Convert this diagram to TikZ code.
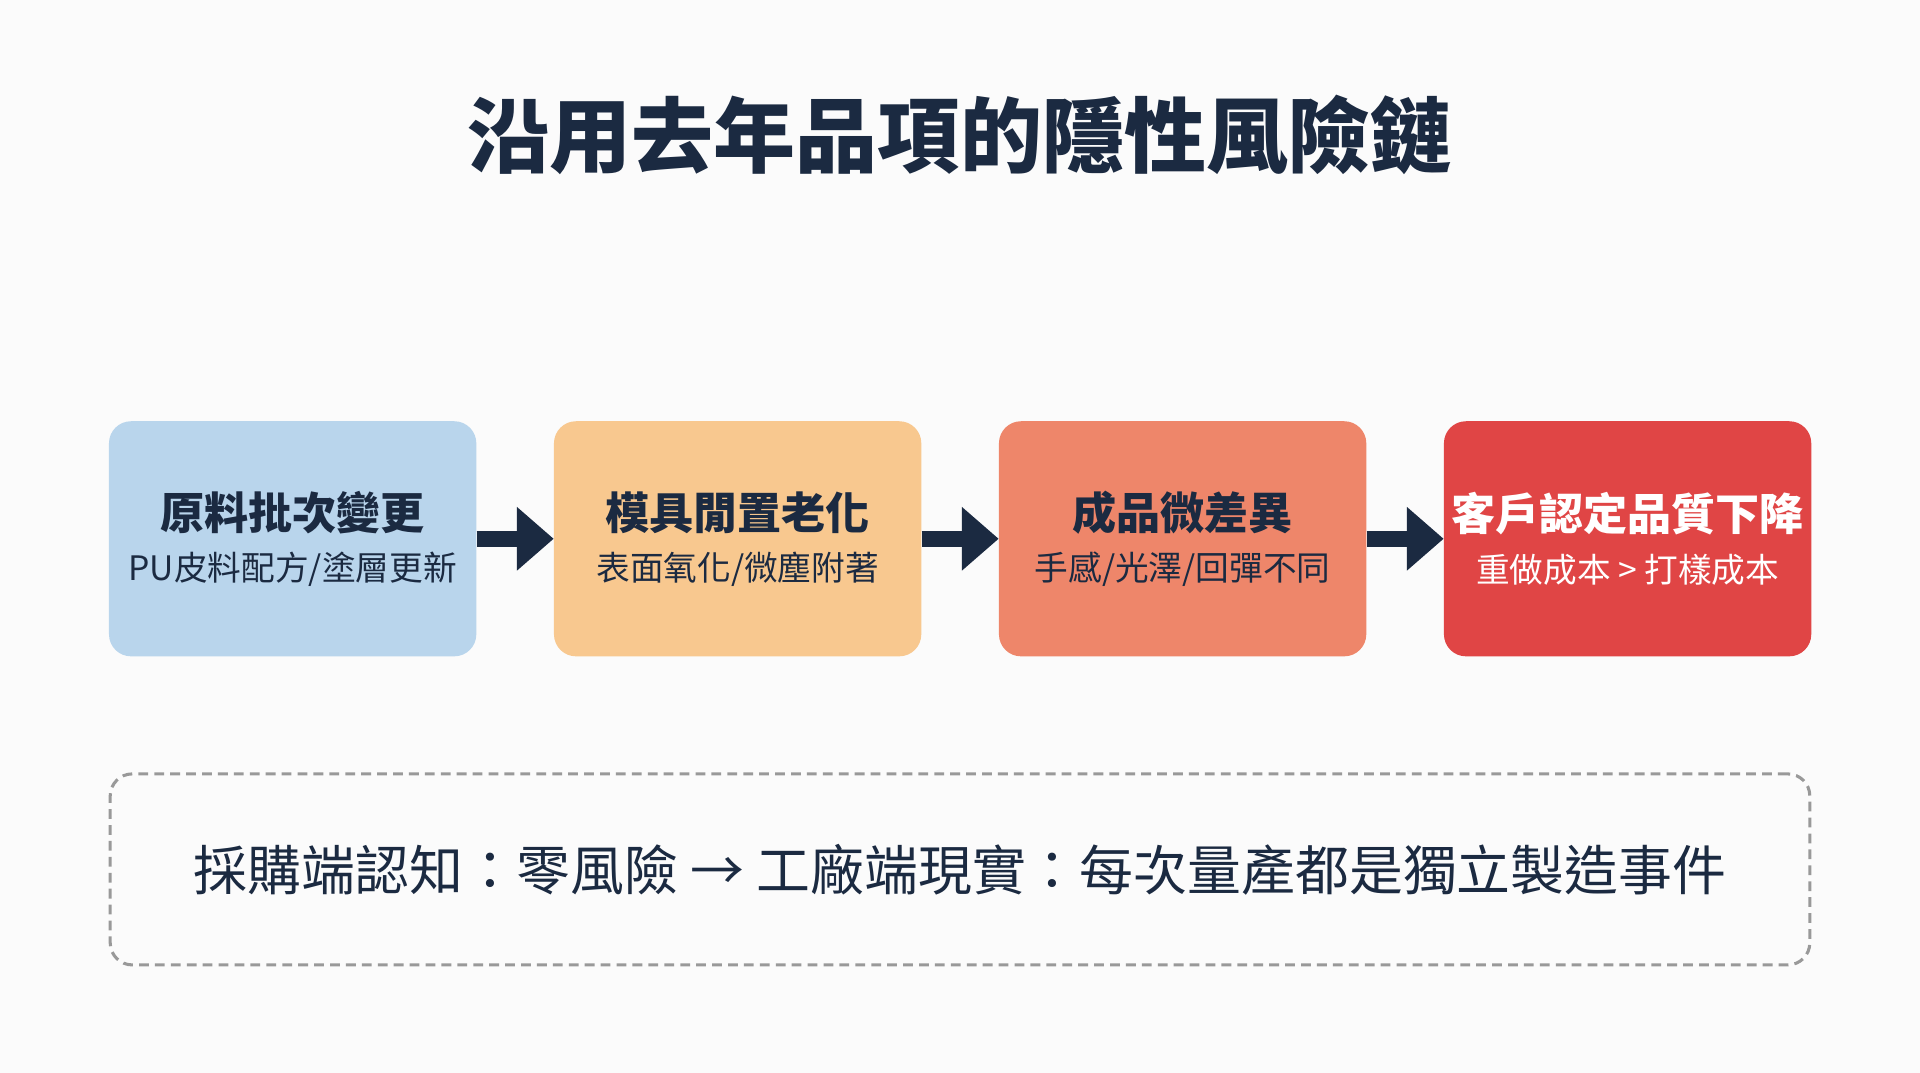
\documentclass[tikz,border=0pt]{standalone}
\usepackage{fontspec}
\setmainfont{Noto Sans CJK TC}
\usetikzlibrary{positioning,arrows.meta}
\definecolor{navy}{HTML}{1B2A41}
\definecolor{cblue}{HTML}{B9D5EC}
\definecolor{corange}{HTML}{F8C88F}
\definecolor{csalmon}{HTML}{EE866A}
\definecolor{cred}{HTML}{E04545}
\tikzset{
  stage/.style={rounded corners=18pt, minimum width=300pt, minimum height=192pt, inner sep=0pt, align=center, text=navy},
  link/.style={navy, line width=13pt, -{Triangle[length=30pt,width=50pt]}},
}
\newcommand{\stagetext}[2]{{\fontsize{36}{42}\selectfont\bfseries #1}\\[14pt]{\fontsize{27.5}{32}\selectfont #2}}
\begin{document}
\begin{tikzpicture}[x=1pt,y=-1pt]
    \fill[white!97!gray] (0,0) rectangle (1568,876);
    \useasboundingbox (0,0) rectangle (1568,876);
    \node[text=navy, font=\fontsize{67}{76}\selectfont\bfseries] (title) at (784,110) {沿用去年品項的隱性風險鏈};
    \node[stage, fill=cblue] (batch) at (239,440) {\stagetext{原料批次變更}{PU皮料配方/塗層更新}};
    \node[stage, fill=corange, right=63pt of batch] (mold) {\stagetext{模具閒置老化}{表面氧化/微塵附著}};
    \node[stage, fill=csalmon, right=63pt of mold] (diff) {\stagetext{成品微差異}{手感/光澤/回彈不同}};
    \node[stage, fill=cred, text=white, right=63pt of diff] (drop) {\stagetext{客戶認定品質下降}{重做成本 > 打樣成本}};
    \draw[link] (batch) -- (mold);
    \draw[link] (mold) -- (diff);
    \draw[link] (diff) -- (drop);
    \node[draw=gray!80, dashed, line width=2.5pt, dash pattern=on 8pt off 5pt, rounded corners=18pt, minimum width=1388pt, minimum height=156pt, text=navy, font=\fontsize{44}{52}\selectfont] (note) at (784,710) {採購端認知：零風險 → 工廠端現實：每次量產都是獨立製造事件};
\end{tikzpicture}
\end{document}
